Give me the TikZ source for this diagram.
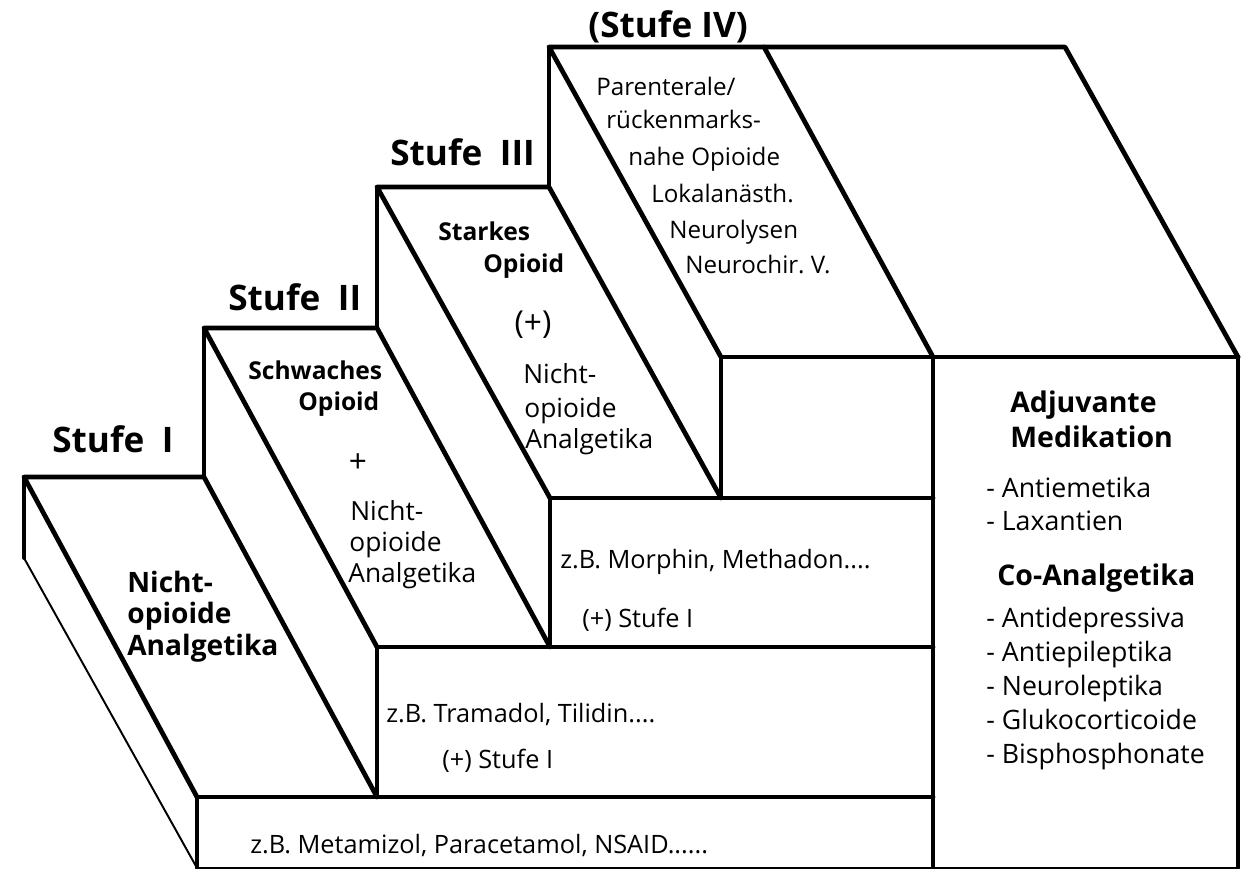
\documentclass[tikz,border=0pt]{standalone}
\usepackage{fontspec}
\setmainfont{Open Sans}
\usetikzlibrary{calc}
\frenchspacing

\tikzset{
  edge/.style={line width=2.7pt, line join=round, line cap=round},
  riser/.style={line width=2.2pt, line cap=round},
  hair/.style={line width=1.1pt},
  stufe/.style={font=\bfseries\fontsize{20}{23}\selectfont, anchor=base west, inner sep=0pt},
  headb/.style={font=\bfseries\fontsize{16}{19}\selectfont, anchor=base west, inner sep=0pt},
  subb/.style={font=\bfseries\fontsize{14}{17}\selectfont, anchor=base west, inner sep=0pt},
  tread/.style={font=\fontsize{15}{18}\selectfont, anchor=base west, inner sep=0pt},
  top4/.style={font=\fontsize{13.75}{16}\selectfont, anchor=base west, inner sep=0pt},
  face/.style={font=\fontsize{14.4}{17}\selectfont, anchor=base west, inner sep=0pt},
  adjb/.style={font=\bfseries\fontsize{16.2}{19}\selectfont, anchor=base west, inner sep=0pt},
  lst/.style={font=\fontsize{15.2}{18}\selectfont, anchor=base west, inner sep=0pt}
}

\begin{document}
\begin{tikzpicture}[x=0.02cm, y=-0.02cm]
  \useasboundingbox (0,0) rectangle (1245,869);

  % corners of the steps (back left, back right, front right, front left)
  \coordinate (a1) at (24,477);  \coordinate (b1) at (204,477);
  \coordinate (c1) at (377,797); \coordinate (d1) at (197,797);
  \coordinate (a2) at (204,328); \coordinate (b2) at (377,328);
  \coordinate (c2) at (550,647); \coordinate (d2) at (377,647);
  \coordinate (a3) at (377,187); \coordinate (b3) at (549,187);
  \coordinate (c3) at (721,498); \coordinate (d3) at (550,498);
  \coordinate (a4) at (549,47);  \coordinate (b4) at (764,47);
  \coordinate (c4) at (933,357); \coordinate (d4) at (721,357);
  \coordinate (e)  at (1065,47); \coordinate (f)  at (1238,357);
  \coordinate (s1) at (24,558);
  \coordinate (g1) at (197,868); \coordinate (g2) at (933,868);
  \coordinate (g3) at (1238,868);

  % front faces
  \draw[riser] (d1) -- (g1);
  \draw[riser] (d2) -- (c1);
  \draw[riser] (d3) -- (c2);
  \draw[riser] (d4) -- (c3);
  \draw[riser] (c4) -- (g2);
  \draw[riser] (f) -- (g3);
  \draw[hair] (g1) -- (g3);

  % back risers and side of step I
  \draw[riser] (b1) -- (a2);
  \draw[riser] (b2) -- (a3);
  \draw[riser] (b3) -- (a4);
  \draw[riser] (a1) -- (s1);
  \draw[hair] (s1) -- (g1);

  % treads
  \draw[edge] (d1) -- (a1) -- (b1) -- (c1);
  \draw[edge] (d2) -- (a2) -- (b2) -- (c2);
  \draw[edge] (d3) -- (a3) -- (b3) -- (c3);
  \draw[edge] (d4) -- (a4) -- (e) -- (f);
  \draw[edge] (b4) -- (c4);

  % front edges
  \draw[edge] (d1) -- (933,797);
  \draw[edge] (d2) -- (933,647);
  \draw[edge] (d3) -- (933,498);
  \draw[edge] (d4) -- (f);

  % labels above the steps
  \node[stufe] (st1) at (52,452) {Stufe\enspace I};
  \node[stufe] (st2) at (228,310) {Stufe\enspace II};
  \node[stufe] (st3) at (390,165) {Stufe\enspace III};
  \node[stufe] (st4) at (588,37) {(Stufe IV)};

  % step I
  \node[headb] (t1a) at (127,592) {Nicht-};
  \node[headb] (t1b) at (127,623) {opioide};
  \node[headb] (t1c) at (127,655) {Analgetika};

  % step II
  \node[subb] (t2a) at (248,379) {Schwaches};
  \node[subb] (t2b) at (298,410) {Opioid};
  \node[tread, anchor=center, font=\fontsize{18}{18}\selectfont] (t2p) at (358,463) {+};
  \node[tread] (t2c) at (350,520) {Nicht-};
  \node[tread] (t2d) at (349,551) {opioide};
  \node[tread] (t2e) at (348,582) {Analgetika};

  % step III
  \node[subb] (t3a) at (438,240) {Starkes};
  \node[subb] (t3b) at (483,272) {Opioid};
  \node[tread, anchor=center, font=\fontsize{18}{18}\selectfont] (t3p) at (533,325) {(+)};
  \node[tread] (t3c) at (523,383) {Nicht-};
  \node[tread] (t3d) at (524,417) {opioide};
  \node[tread] (t3e) at (525,448) {Analgetika};

  % step IV
  \node[top4] (t4a) at (596,95) {Parenterale/};
  \node[top4] (t4b) at (606,128) {rückenmarks-};
  \node[top4] (t4c) at (628,165) {nahe Opioide};
  \node[top4] (t4d) at (651,202) {Lokalanästh.};
  \node[top4] (t4e) at (669,238) {Neurolysen};
  \node[top4] (t4f) at (685,273) {Neurochir. V.};

  % front faces
  \node[face] (f1) at (250,853) {z.B. Metamizol, Paracetamol, NSAID......};
  \node[face] (f2) at (386,722) {z.B. Tramadol, Tilidin....};
  \node[face] (f2b) at (442,768) {(+) Stufe I};
  \node[face] (f3) at (560,568) {z.B. Morphin, Methadon....};
  \node[face] (f3b) at (582,627) {(+) Stufe I};

  % adjuvant block
  \node[adjb] (adj1) at (1010,412) {Adjuvante};
  \node[adjb] (adj2) at (1010,447) {Medikation};
  \node[lst] (l1) at (986,497) {- Antiemetika};
  \node[lst] (l2) at (986,530) {- Laxantien};
  \node[adjb] (co) at (997,585) {Co-Analgetika};
  \foreach \med [count=\i] in {Antidepressiva, Antiepileptika, Neuroleptika, Glukocorticoide, Bisphosphonate}
    \node[lst] (m\i) at (986,593+34*\i) {- \med};
\end{tikzpicture}
\end{document}
